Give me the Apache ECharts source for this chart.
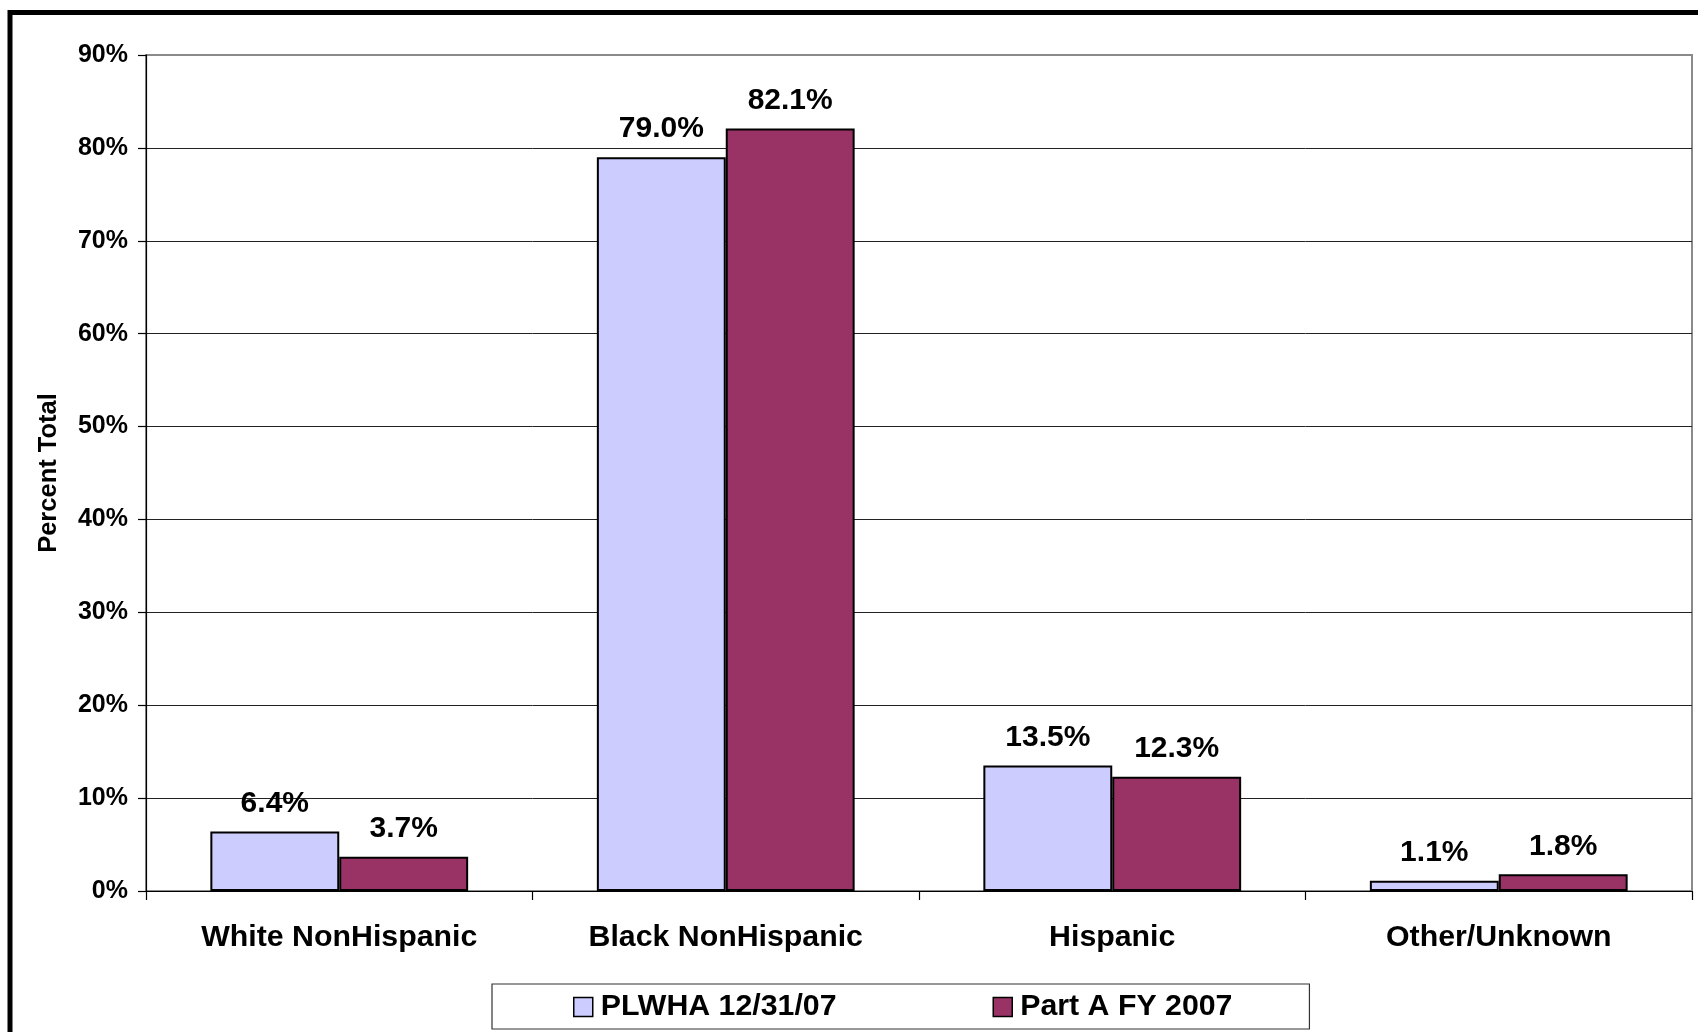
<!DOCTYPE html>
<html>
<head>
<meta charset="utf-8">
<script src="https://cdn.jsdelivr.net/npm/echarts@6/dist/echarts.min.js"></script>
<style>
html,body{margin:0;padding:0;background:#fff;}
#chart{width:1698px;height:1032px;}
</style>
</head>
<body>
<div id="chart"></div>
<script>
const categories = ['White NonHispanic', 'Black NonHispanic', 'Hispanic', 'Other/Unknown'];
const seriesNames = ['PLWHA 12/31/07', 'Part A FY 2007'];
const plwha = [6.4, 79.0, 13.5, 1.1];
const partA = [3.7, 82.1, 12.3, 1.8];
const yTicks = { min: 0, max: 90, interval: 10 };

const FONT = 'Arial, "Liberation Sans", sans-serif';
const chart = echarts.init(document.getElementById('chart'), null, { renderer: 'canvas' });

const labelCfg = {
  show: true,
  position: 'top',
  distance: 13,
  fontFamily: FONT,
  fontWeight: 'bold',
  fontSize: 30,
  color: '#000',
  formatter: p => p.value.toFixed(1) + '%'
};

chart.setOption({
  animation: false,
  backgroundColor: '#fff',
  graphic: [{
    type: 'rect',
    shape: { x: 10, y: 12.5, width: 2000, height: 2000 },
    style: { fill: 'none', stroke: '#000', lineWidth: 5 },
    silent: true,
    z: 100
  }],
  grid: {
    left: 146, right: 6, top: 55, bottom: 141,
    show: true, borderColor: '#8a8a8a', borderWidth: 2, backgroundColor: 'transparent'
  },
  legend: {
    data: seriesNames,
    left: 492, top: 984,
    orient: 'horizontal',
    icon: 'rect',
    itemWidth: 19, itemHeight: 19,
    itemGap: 156,
    padding: [8, 77, 7, 81],
    borderColor: '#333', borderWidth: 1.2,
    textStyle: { fontFamily: FONT, fontWeight: 'bold', fontSize: 30.3, color: '#000', padding: [0, 0, 0, 3] },
    itemStyle: { borderColor: '#000', borderWidth: 1.5 }
  },
  xAxis: {
    type: 'category',
    data: categories,
    axisLine: { lineStyle: { color: '#000', width: 1.2 } },
    axisTick: { show: true, length: 9, lineStyle: { color: '#000', width: 1.2 } },
    axisLabel: { fontFamily: FONT, fontWeight: 'bold', fontSize: 30.3, color: '#000', margin: 32 }
  },
  yAxis: {
    type: 'value',
    min: yTicks.min, max: yTicks.max, interval: yTicks.interval,
    name: 'Percent Total',
    nameLocation: 'middle',
    nameGap: 84,
    nameRotate: 90,
    nameTextStyle: { fontFamily: FONT, fontWeight: 'bold', fontSize: 25.5, color: '#000' },
    axisLine: { show: true, lineStyle: { color: '#000', width: 1.2 } },
    axisTick: { show: true, length: 8, lineStyle: { color: '#000', width: 1.2 } },
    axisLabel: { fontFamily: FONT, fontWeight: 'bold', fontSize: 25, color: '#000', margin: 18, formatter: '{value}%' },
    splitLine: { show: true, showMaxLine: false, lineStyle: { color: '#222', width: 1 } }
  },
  series: [
    {
      name: seriesNames[0], type: 'bar', data: plwha,
      barGap: '0%', barCategoryGap: '33.3%',
      itemStyle: { color: '#CCCCFF', borderColor: '#000', borderWidth: 2 },
      label: labelCfg
    },
    {
      name: seriesNames[1], type: 'bar', data: partA,
      barGap: '0%', barCategoryGap: '33.3%',
      itemStyle: { color: '#993366', borderColor: '#000', borderWidth: 2 },
      label: labelCfg
    }
  ]
});
</script>
</body>
</html>
